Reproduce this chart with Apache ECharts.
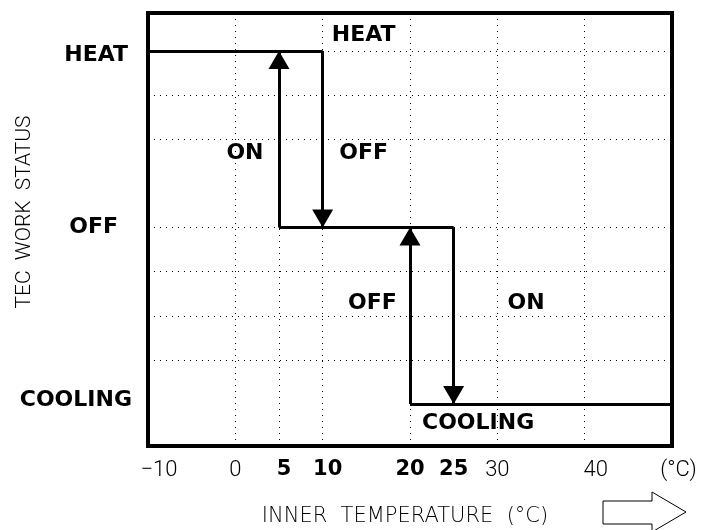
<!DOCTYPE html>
<html>
<head>
<meta charset="utf-8">
<script src="https://cdn.jsdelivr.net/npm/echarts@6/dist/echarts.min.js"></script>
<style>
  html, body { margin: 0; padding: 0; background: #fff; }
  #chart { width: 702px; height: 530px; }
</style>
</head>
<body>
<div id="chart"></div>
<script>
// axis ranges (temperature in C, status level 0..8)
const xMin = -10;
const xMax = 50;
const yMin = -0.95;
const yMax = 8.86;

const statusValues = [0, 4, 8];
const statusNames = ["COOLING", "OFF", "HEAT"];

const xTickValues = [-10, 0, 5, 10, 20, 25, 30, 40, 50];
const xTickLabels = ["−10", "0", "5", "10", "20", "25", "30", "40", "(°C)"];
const boldTicks = [5, 10, 20, 25];

const gridLinesY = [1, 2, 3, 4, 6, 7, 8];
const gridLinesX = [0, 10, 20, 30, 40];
const partialGridX = 5; // only drawn from bottom up to OFF

// status levels of the hysteresis loop
const heatSegment = [[-10, 8], [10, 8]];
const offSegment = [[5, 4], [25, 4]];
const coolSegment = [[20, 0], [50, 0]];

// switching arrows, from -> to
const arrowSegments = [
  [[10, 8], [10, 4]],
  [[5, 4], [5, 8]],
  [[20, 0], [20, 4]],
  [[25, 4], [25, 0]]
];

// words written inside the plot
const noteTexts = ["HEAT", "ON", "OFF", "OFF", "ON", "COOLING"];
const notePoints = [[14.7, 8.35], [1.1, 5.69], [14.7, 5.69], [15.7, 2.29], [33.3, 2.29], [27.8, -0.44]];

const thinFont = "Roboto";
const wideThinFont = "DejaVu Sans";
const boldFont = "DejaVu Sans";

const chart = echarts.init(document.getElementById("chart"), null, { renderer: "canvas" });

// dotted grid built as mark lines so the gaps match the drawing
const dotted = { color: "#000", width: 1, type: [1, 5] };
const gridMarks = [];
gridLinesY.forEach((v) => gridMarks.push([{ coord: [xMin, v] }, { coord: [xMax, v] }]));
gridLinesX.forEach((v) => gridMarks.push([{ coord: [v, yMin] }, { coord: [v, yMax] }]));
gridMarks.push([{ coord: [partialGridX, yMin] }, { coord: [partialGridX, 4] }]);

// filled triangle head (21 wide, 18 tall), tip at the centre of a square box
const arrowHead = "path://M-18,0 L18,0 L0,0 L0,-18 L0,0 L10.5,18 L-10.5,18 L0,0 Z";

const tick = (extra) => Object.assign({ fontFamily: thinFont, fontWeight: 300, fontSize: 22, color: "#000" }, extra);
const boldTick = (extra) => Object.assign({ fontFamily: boldFont, fontWeight: "bold", fontSize: 21, color: "#000" }, extra);
const bigLabel = (extra) => Object.assign({ fontFamily: boldFont, fontWeight: "bold", fontSize: 22, color: "#000" }, extra);

const option = {
  backgroundColor: "#fff",
  animation: false,
  grid: {
    left: 148,
    right: 30,
    top: 13,
    bottom: 84,
    show: true,
    borderColor: "#000",
    borderWidth: 4,
    outerBoundsMode: "none"
  },
  xAxis: {
    type: "value",
    min: xMin,
    max: xMax,
    name: "INNER  TEMPERATURE  (°C)",
    nameLocation: "middle",
    nameGap: 60,
    nameMoveOverlap: false,
    nameTextStyle: {
      fontFamily: wideThinFont,
      fontWeight: 200,
      fontSize: 21,
      color: "#000",
      padding: [0, 10, 0, 0]
    },
    axisLine: { show: false },
    axisTick: { show: false },
    splitLine: { show: false },
    axisLabel: {
      customValues: xTickValues,
      margin: 13,
      formatter: (v) => {
        const txt = xTickLabels[xTickValues.indexOf(v)];
        if (boldTicks.includes(v)) {
          return v < 15 ? "{bs|" + txt + "}" : "{b|" + txt + "}";
        }
        if (v === -10) return "{tm|" + txt + "}";
        if (v === 40) return "{tw|" + txt + "}";
        if (v === 50) return "{tu|" + txt + "}";
        return "{t|" + txt + "}";
      },
      rich: {
        t: tick({}),
        tm: tick({ padding: [0, 0, 0, 22] }),
        tw: tick({ padding: [0, 0, 0, 22] }),
        tu: tick({ padding: [0, 0, 0, 13] }),
        b: boldTick({}),
        bs: boldTick({ padding: [0, 0, 0, 10] })
      }
    }
  },
  yAxis: {
    type: "value",
    min: yMin,
    max: yMax,
    name: "TEC  WORK  STATUS",
    nameLocation: "middle",
    nameGap: 113,
    nameMoveOverlap: false,
    nameTextStyle: {
      fontFamily: thinFont,
      fontWeight: 300,
      fontSize: 21,
      color: "#000",
      padding: [0, 0, 0, 35]
    },
    axisLine: { show: false },
    axisTick: { show: false },
    splitLine: { show: false },
    axisLabel: {
      customValues: statusValues,
      margin: 16,
      formatter: (v) => {
        const name = statusNames[statusValues.indexOf(v)];
        return "{" + name.toLowerCase() + "|" + name + "}";
      },
      rich: {
        heat: bigLabel({ padding: [8, 4, 0, 0] }),
        off: bigLabel({ padding: [0, 14, 0, 0] }),
        cooling: bigLabel({ padding: [0, 0, 8, 0] })
      }
    }
  },
  series: [
    {
      type: "line",
      data: [],
      silent: true,
      markLine: {
        silent: true,
        symbol: "none",
        label: { show: false },
        lineStyle: dotted,
        data: gridMarks
      }
    },
    {
      type: "lines",
      coordinateSystem: "cartesian2d",
      silent: true,
      lineStyle: { color: "#000", width: 3, opacity: 1 },
      data: [heatSegment, offSegment, coolSegment].map((c) => ({ coords: c }))
    },
    {
      type: "lines",
      coordinateSystem: "cartesian2d",
      silent: true,
      symbol: ["none", arrowHead],
      symbolSize: 36,
      lineStyle: { color: "#000", width: 3, opacity: 1 },
      itemStyle: { color: "#000" },
      data: arrowSegments.map((c) => ({ coords: c }))
    },
    {
      type: "scatter",
      silent: true,
      symbolSize: 0,
      itemStyle: { opacity: 1 },
      data: notePoints.map((p, i) => ({ value: p, name: noteTexts[i] })),
      label: Object.assign(bigLabel({}), {
        show: true,
        position: "inside",
        opacity: 1,
        formatter: (p) => p.name
      })
    }
  ],
  graphic: [
    {
      type: "polygon",
      silent: true,
      shape: {
        points: [[603, 501], [652, 501], [652, 492], [686, 512], [652, 532], [652, 524], [603, 524]]
      },
      style: { fill: "#fff", stroke: "#000", lineWidth: 1 }
    }
  ]
};

chart.setOption(option);
</script>
</body>
</html>
